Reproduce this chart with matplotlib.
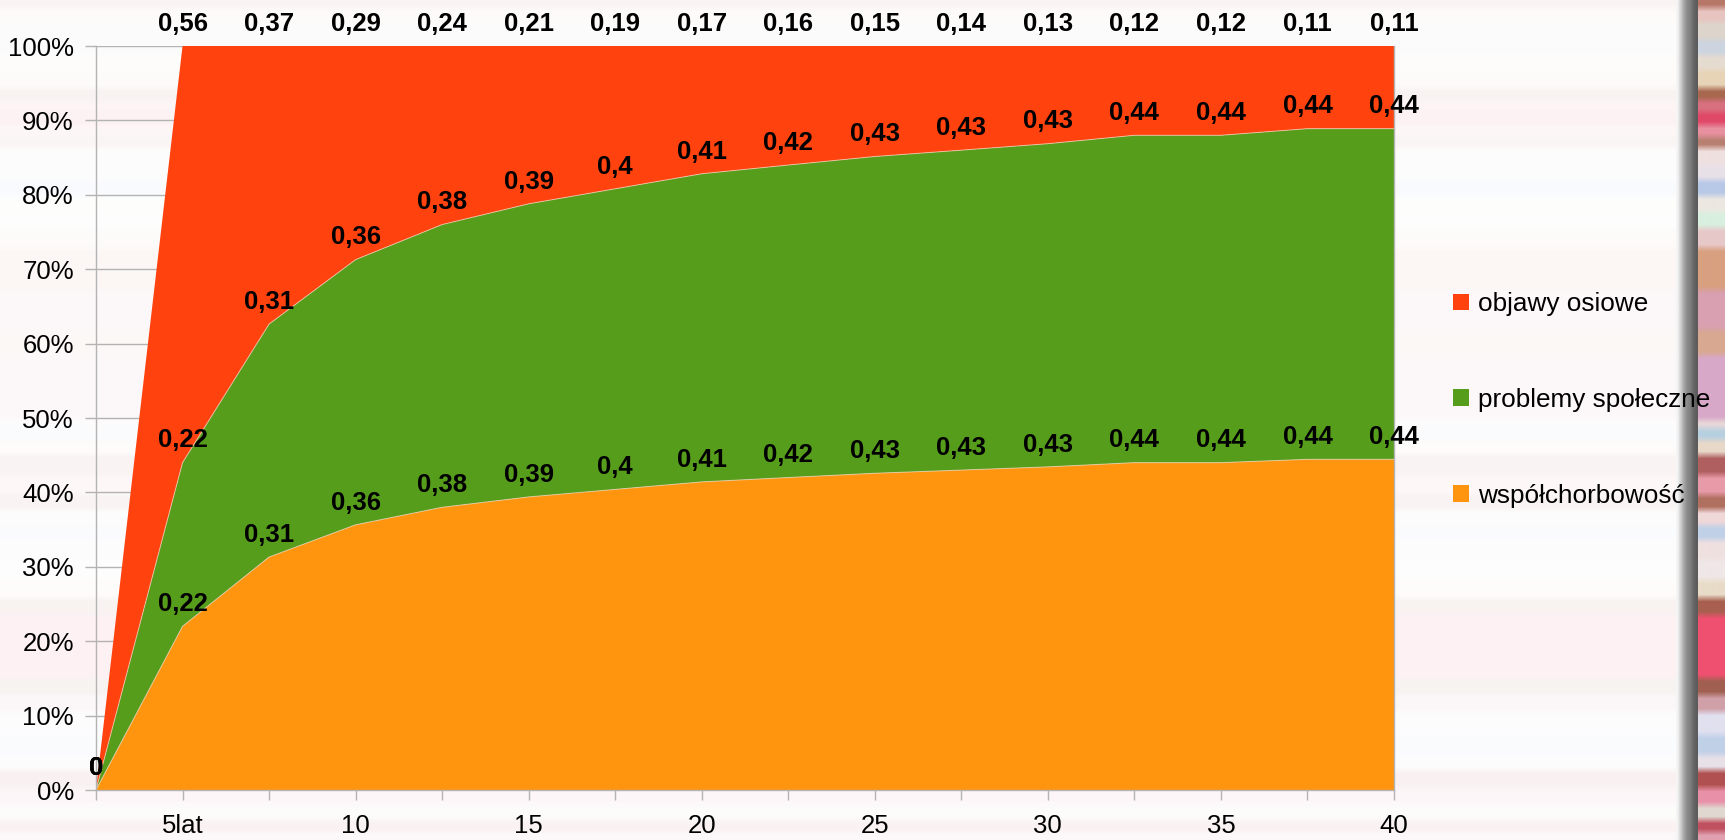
import numpy as np
import matplotlib
matplotlib.use("Agg")
import matplotlib.pyplot as plt
from matplotlib.patches import Patch
from matplotlib.colors import to_rgb

plt.rcParams['font.family'] = ['Liberation Sans', 'DejaVu Sans']

# ---- data -------------------------------------------------------------
categories = ["", "5lat", "", "10", "", "15", "", "20", "", "25", "", "30", "", "35", "", "40"]
wspolchorobowosc = [0, 0.22, 0.31, 0.36, 0.38, 0.39, 0.4, 0.41, 0.42, 0.43, 0.43, 0.43, 0.44, 0.44, 0.44, 0.44]
problemy_spoleczne = [0, 0.22, 0.31, 0.36, 0.38, 0.39, 0.4, 0.41, 0.42, 0.43, 0.43, 0.43, 0.44, 0.44, 0.44, 0.44]
objawy_osiowe = [0, 0.56, 0.37, 0.29, 0.24, 0.21, 0.19, 0.17, 0.16, 0.15, 0.14, 0.13, 0.12, 0.12, 0.11, 0.11]
series_names = ["współchorbowość", "problemy społeczne", "objawy osiowe"]
series_colors = ["#ff950e", "#579d1c", "#ff420e"]
y_ticks = [0, 10, 20, 30, 40, 50, 60, 70, 80, 90, 100]

# colour bands of the blurred backdrop (row in px from top, colour)
backdrop_bands = [
    (0, '#b87868'), (8, '#e8c4c0'), (22, '#ddd5cc'), (40, '#ccd4e0'), (55, '#e6dcd0'),
    (70, '#e8d4b8'), (88, '#a86850'), (100, '#d87080'), (112, '#e04868'), (125, '#e890a0'),
    (137, '#b88070'), (148, '#f0e0e0'), (165, '#e8e0e8'), (180, '#b8c8e8'), (196, '#ece8e0'),
    (212, '#d8f0e0'), (228, '#e8c8c8'), (248, '#d8a080'), (290, '#d8a0b0'), (330, '#d8a890'),
    (355, '#d8a8c8'), (420, '#e8d8d8'), (428, '#b8d0e0'), (440, '#e8d8c8'), (455, '#b06060'),
    (475, '#e89aa8'), (495, '#b07060'), (510, '#f0d8d8'), (525, '#c0d0e8'), (540, '#f0e0e0'),
    (560, '#f0e8e8'), (580, '#e8dcc8'), (598, '#a86050'), (615, '#f05070'), (678, '#a06050'),
    (695, '#d0a0a8'), (712, '#e0e0f0'), (735, '#c0d0e8'), (755, '#e8e0e8'), (770, '#b05050'),
    (788, '#e890a8'), (805, '#e0d8d0'), (820, '#c05060'), (832, '#e0a0b0'),
]

W, H = 1725, 840
fig = plt.figure(figsize=(W / 100, H / 100), dpi=100)

# ---- blurred banded backdrop -------------------------------------------
rows = np.zeros((H, 3))
starts = [b[0] for b in backdrop_bands] + [H]
for (y0, c), y1 in zip(backdrop_bands, starts[1:]):
    rows[y0:y1] = to_rgb(c)
kernel = np.ones(7) / 7
rows = np.stack([np.convolve(np.pad(rows[:, k], 3, mode='edge'), kernel, mode='valid') for k in range(3)], axis=1)

bg_ax = fig.add_axes([0, 0, 1, 1], zorder=-10)
faint = 1 - 0.075 * (1 - rows)
bg_ax.imshow(faint[:, None, :], extent=[0, 1, 0, 1], aspect='auto', interpolation='bilinear')
bg_ax.axis('off')

strip_ax = fig.add_axes([1698 / W, 0, 27 / W, 1], zorder=-5)
strip_ax.imshow(rows[:, None, :], extent=[0, 1, 0, 1], aspect='auto', interpolation='bilinear')
strip_ax.axis('off')

bar_cols = np.array([to_rgb(c) for c in ['#f4f4f4', '#d0d0d0', '#a8a8a8', '#8c8c8c', '#808080', '#6a6a6a', '#5c5c5c']])
bar_ax = fig.add_axes([1676 / W, 0, 22 / W, 1], zorder=-5)
bar_ax.imshow(bar_cols[None, :, :], extent=[0, 1, 0, 1], aspect='auto', interpolation='bilinear')
bar_ax.axis('off')

# ---- stacked 100% area chart ---------------------------------------------
ax = fig.add_axes([96 / W, 50 / H, (1394 - 96) / W, (790 - 46) / H])
ax.set_facecolor('none')

data = np.array([wspolchorobowosc, problemy_spoleczne, objawy_osiowe], dtype=float)
totals = data.sum(axis=0)
safe = np.where(totals > 0, totals, 1)
pct = np.where(totals > 0, data / safe, 0) * 100
x = np.arange(len(categories))

ax.stackplot(x, pct, colors=series_colors, linewidth=0, zorder=2)
cum = np.cumsum(pct, axis=0)
for level in cum[:-1]:
    ax.plot(x, level, color='#f6d6c0', lw=0.7, alpha=0.7, zorder=3)

for s in range(data.shape[0]):
    for i in range(len(x)):
        txt = ('%g' % data[s, i]).replace('.', ',')
        ax.annotate(txt, (x[i], cum[s, i]), xytext=(0, 16), textcoords='offset points',
                    ha='center', va='center', fontsize=18.5, fontweight='bold',
                    color='black', zorder=5, annotation_clip=False)

ax.set_xlim(0, len(x) - 1)
ax.set_ylim(0, 100)
ax.set_yticks(y_ticks)
ax.set_yticklabels([f"{v}%" for v in y_ticks])
ax.set_xticks(x)
ax.set_xticklabels(categories)
ax.yaxis.grid(True, color='#b3b3b3', lw=1, zorder=0)
ax.set_axisbelow(True)
ax.tick_params(axis='y', length=8, width=1, color='#b3b3b3', pad=8, labelsize=18.5)
ax.tick_params(axis='x', length=7, width=1, color='#b3b3b3', pad=10, labelsize=18.5)
for side in ['left', 'bottom', 'right']:
    ax.spines[side].set_color('#b3b3b3')
    ax.spines[side].set_linewidth(1)
ax.spines['top'].set_visible(False)
ax.spines['left'].set_zorder(4)

# ---- legend ---------------------------------------------------------------
handles = [Patch(facecolor=c, edgecolor='none') for c in series_colors][::-1]
labels = series_names[::-1]
fig.legend(handles, labels, loc='center left', bbox_to_anchor=(1453 / W, 1 - 400 / H),
           frameon=False, fontsize=18.8, handlelength=0.62, handleheight=0.62,
           handletextpad=0.33, labelspacing=2.75, borderpad=0, borderaxespad=0)

fig.savefig('out.png', dpi=100)
